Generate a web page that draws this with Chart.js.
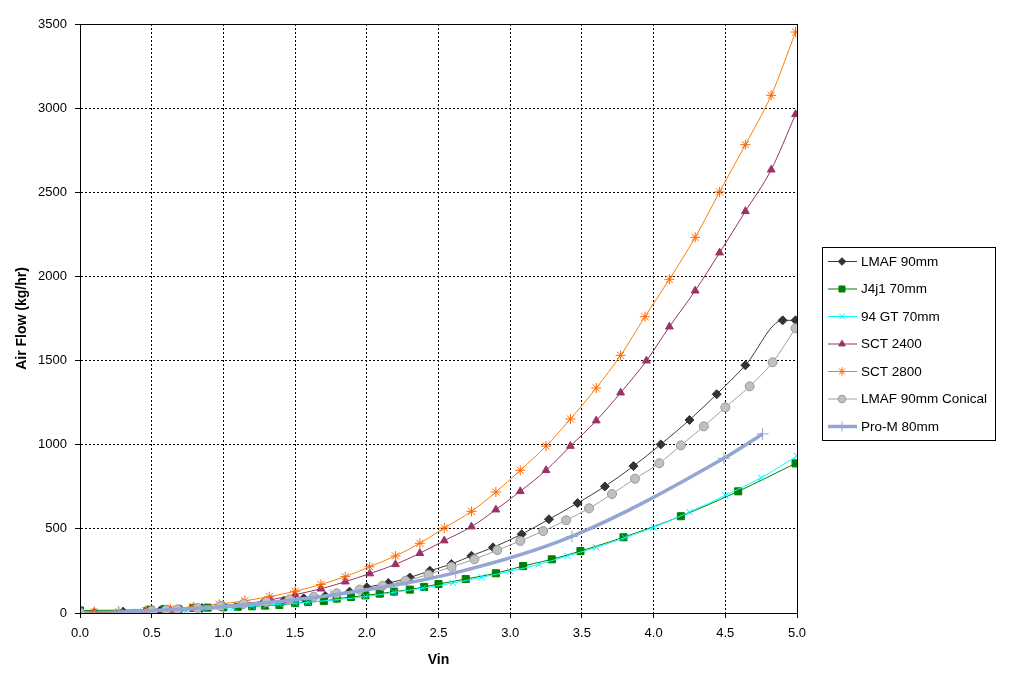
<!DOCTYPE html>
<html>
<head>
<meta charset="utf-8">
<script src="https://cdn.jsdelivr.net/npm/chart.js@4/dist/chart.umd.min.js"></script>
<style>
  html, body { margin: 0; padding: 0; background: #fff; }
  #wrap { width: 1014px; height: 681px; }
</style>
</head>
<body>
<div id="wrap"><canvas id="airflow"></canvas></div>
<script>
'use strict';

// Vin readings and air flow (kg/hr) per sensor
const LMAF_90_X = [0, 0.3, 0.56, 0.7, 0.85, 1.0, 1.14, 1.28, 1.42, 1.56, 1.71, 1.88, 2.0, 2.15, 2.3, 2.44, 2.59, 2.73, 2.88, 3.08, 3.27, 3.47, 3.66, 3.86, 4.05, 4.25, 4.44, 4.64, 4.9, 4.99];
const LMAF_90_Y = [5, 8, 15, 22, 30, 40, 52, 63, 73, 87, 101, 127, 153, 178, 211, 251, 291, 340, 390, 468, 557, 653, 752, 873, 1002, 1147, 1300, 1472, 1739, 1739];

const J4J1_X = [0, 0.49, 0.59, 0.79, 0.89, 1.0, 1.1, 1.2, 1.29, 1.39, 1.5, 1.59, 1.7, 1.79, 1.89, 1.99, 2.09, 2.19, 2.3, 2.4, 2.5, 2.69, 2.9, 3.09, 3.29, 3.49, 3.79, 4.19, 4.59, 4.99];
const J4J1_Y = [15, 20, 24, 30, 32, 34, 37, 40, 44, 48, 59, 65, 71, 85, 95, 105, 115, 127, 139, 155, 172, 202, 236, 279, 319, 368, 450, 575, 723, 889];

const GT94_X = [0.31, 0.4, 0.74, 1.07, 1.2, 1.3, 1.39, 1.5, 1.59, 1.79, 1.99, 2.19, 2.39, 2.6, 2.8, 3.0, 3.2, 3.4, 3.6, 3.8, 4.0, 4.25, 4.5, 4.75, 5.0];
const GT94_Y = [5, 8, 12, 32, 40, 46, 52, 58, 64, 79, 97, 123, 147, 178, 212, 248, 289, 339, 390, 448, 509, 600, 699, 804, 933];

const SCT2400_X = [0, 0.1, 0.45, 0.63, 0.8, 0.98, 1.15, 1.33, 1.5, 1.68, 1.85, 2.02, 2.2, 2.37, 2.54, 2.73, 2.9, 3.07, 3.25, 3.42, 3.6, 3.77, 3.95, 4.11, 4.29, 4.46, 4.64, 4.82, 4.99];
const SCT2400_Y = [2, 5, 10, 18, 28, 42, 55, 78, 109, 144, 186, 234, 289, 355, 430, 513, 614, 723, 848, 992, 1143, 1309, 1499, 1701, 1915, 2141, 2387, 2634, 2963];

const SCT2800_X = [0, 0.1, 0.27, 0.46, 0.63, 0.79, 0.97, 1.15, 1.32, 1.5, 1.68, 1.85, 2.02, 2.2, 2.37, 2.54, 2.73, 2.9, 3.07, 3.25, 3.42, 3.6, 3.77, 3.94, 4.11, 4.29, 4.46, 4.64, 4.82, 4.99];
const SCT2800_Y = [2, 8, 8, 14, 24, 37, 52, 73, 97, 129, 170, 216, 275, 339, 414, 505, 604, 719, 848, 992, 1153, 1337, 1531, 1761, 1983, 2232, 2502, 2783, 3076, 3452];

const CONICAL_X = [0, 0.5, 0.6, 0.68, 0.82, 0.98, 1.14, 1.3, 1.46, 1.63, 1.79, 1.95, 2.11, 2.27, 2.43, 2.59, 2.75, 2.91, 3.07, 3.23, 3.39, 3.55, 3.71, 3.87, 4.04, 4.19, 4.35, 4.5, 4.67, 4.83, 4.99];
const CONICAL_Y = [3, 14, 18, 22, 30, 42, 55, 66, 81, 97, 117, 139, 162, 192, 228, 275, 319, 374, 428, 487, 551, 622, 707, 798, 890, 996, 1109, 1222, 1347, 1490, 1692];

const PROM_X = [0.27, 1.0, 1.75, 2.62, 3.43, 4.49, 4.76];
const PROM_Y = [5, 38, 105, 240, 455, 919, 1064];

const X_TICKS = [0, 0.5, 1, 1.5, 2, 2.5, 3, 3.5, 4, 4.5, 5];
const Y_TICKS = [0, 500, 1000, 1500, 2000, 2500, 3000, 3500];

function pairs(xs, ys) {
    const out = [];
    for (let i = 0; i < xs.length; i++) {
        out.push({ x: xs[i], y: ys[i] });
    }
    return out;
}

function series(label, xs, ys, line, fill, edge, style, radius, width, order) {
    return {
        label: label,
        data: pairs(xs, ys),
        borderColor: line,
        borderWidth: width,
        backgroundColor: fill,
        pointBackgroundColor: fill,
        pointBorderColor: edge,
        pointBorderWidth: 1,
        pointStyle: style,
        pointRadius: radius,
        pointHoverRadius: radius,
        cubicInterpolationMode: 'monotone',
        order: order
    };
}

const datasets = [
    series('LMAF 90mm', LMAF_90_X, LMAF_90_Y, '#3c3c3c', '#333333', '#333333', 'rectRot', 4.5, 1, 6),
    series('J4j1 70mm', J4J1_X, J4J1_Y, '#008000', '#008000', '#008000', 'rect', 5, 1, 5),
    series('94 GT 70mm', GT94_X, GT94_Y, '#00ffff', '#00ffff', '#00e5ff', 'crossRot', 4.5, 1, 4),
    series('SCT 2400', SCT2400_X, SCT2400_Y, '#993366', '#993366', '#993366', 'triangle', 4.5, 1, 3),
    series('SCT 2800', SCT2800_X, SCT2800_Y, '#ff8000', '#ff6600', '#ff6600', 'star', 5, 1, 2),
    series('LMAF 90mm Conical', CONICAL_X, CONICAL_Y, '#a0a0a0', '#c0c0c0', '#999999', 'circle', 4.5, 1, 1),
    series('Pro-M 80mm', PROM_X, PROM_Y, '#94a6d2', '#94a6d2', '#94a6d2', 'cross', 6, 3.5, 0)
];

// Excel style legend: framed box, line sample with the marker in the middle
const boxLegend = {
    id: 'boxLegend',
    afterDraw(chart) {
        const ctx = chart.ctx;
        const left = 822.5, top = 247.5, w = 173, h = 193;
        ctx.save();
        ctx.strokeStyle = '#000';
        ctx.lineWidth = 1;
        ctx.strokeRect(left, top, w, h);
        ctx.font = '13.5px "Liberation Sans", Arial, sans-serif';
        ctx.textBaseline = 'middle';
        datasets.forEach(function (ds, i) {
            const y = 261.5 + i * 27.5;
            ctx.strokeStyle = ds.borderColor;
            ctx.lineWidth = ds.borderWidth;
            ctx.beginPath();
            ctx.moveTo(828, y);
            ctx.lineTo(857, y);
            ctx.stroke();
            ctx.fillStyle = ds.pointBackgroundColor;
            ctx.strokeStyle = ds.pointBorderColor;
            ctx.lineWidth = 1;
            Chart.helpers.drawPoint(ctx, {
                pointStyle: ds.pointStyle,
                radius: ds.pointRadius * 0.85,
                rotation: 0,
                borderWidth: 1
            }, 842, y);
            ctx.fillStyle = '#000';
            ctx.fillText(ds.label, 861, y + 0.5);
        });
        ctx.restore();
    }
};

// solid frame round the plot area
const plotFrame = {
    id: 'plotFrame',
    afterDatasetsDraw(chart) {
        const a = chart.chartArea;
        const ctx = chart.ctx;
        ctx.save();
        ctx.strokeStyle = '#000';
        ctx.lineWidth = 1;
        ctx.strokeRect(Math.round(a.left) + 0.5, Math.round(a.top) + 0.5,
            Math.round(a.right - a.left), Math.round(a.bottom - a.top));
        ctx.restore();
    }
};

Chart.defaults.font.family = '"Liberation Sans", Arial, sans-serif';
Chart.defaults.font.size = 13;
Chart.defaults.color = '#000';

new Chart(document.getElementById('airflow'), {
    type: 'line',
    data: { datasets: datasets },
    options: {
        responsive: true,
        maintainAspectRatio: false,
        animation: false,
        layout: { padding: { left: 0, right: 217, top: 24, bottom: 0 } },
        plugins: {
            legend: { display: false },
            tooltip: { enabled: false }
        },
        scales: {
            x: {
                type: 'linear',
                min: 0,
                max: 5,
                afterFit(scale) { scale.height = 68; },
                afterBuildTicks(scale) { scale.ticks = X_TICKS.map(v => ({ value: v })); },
                ticks: {
                    padding: 8,
                    maxRotation: 0,
                    callback: v => Number(v).toFixed(1)
                },
                grid: { color: '#000', lineWidth: 1, tickLength: 5 },
                border: { color: '#000', dash: [2, 2] },
                title: {
                    display: true,
                    text: 'Vin',
                    font: { weight: 'bold', size: 14 },
                    padding: { top: 0, bottom: 12 }
                }
            },
            y: {
                min: 0,
                max: 3500,
                afterFit(scale) { scale.width = 80; },
                afterBuildTicks(scale) { scale.ticks = Y_TICKS.map(v => ({ value: v })); },
                ticks: {
                    padding: 8,
                    callback: v => String(v)
                },
                grid: { color: '#000', lineWidth: 1, tickLength: 5 },
                border: { color: '#000', dash: [2, 2] },
                title: {
                    display: true,
                    text: 'Air Flow (kg/hr)',
                    font: { weight: 'bold', size: 14 },
                    padding: { top: 14, bottom: 0 }
                }
            }
        }
    },
    plugins: [boxLegend, plotFrame]
});
</script>
</body>
</html>
